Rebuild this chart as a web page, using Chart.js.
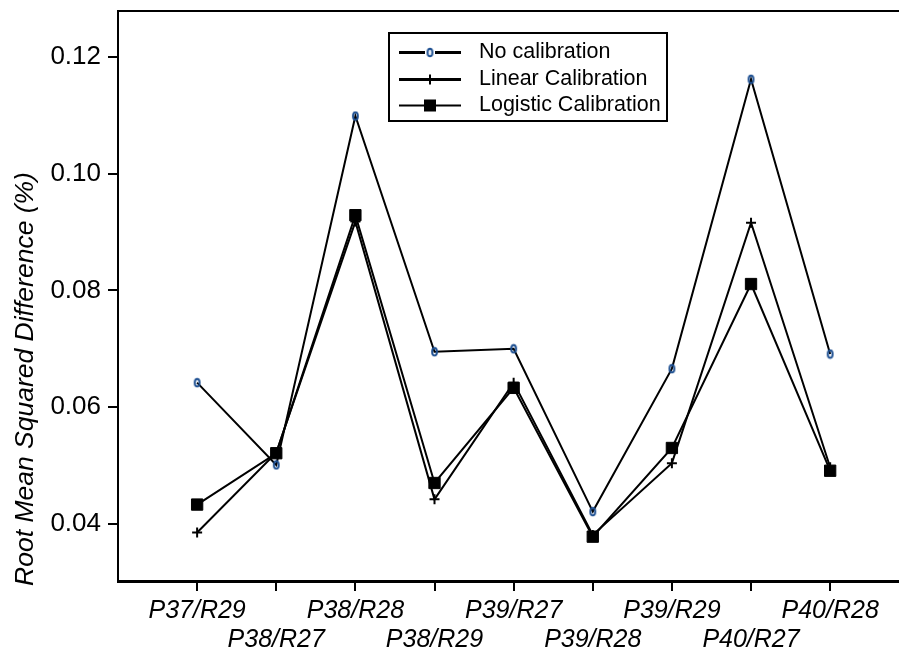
<!DOCTYPE html>
<html>
<head>
<meta charset="utf-8">
<script src="https://cdn.jsdelivr.net/npm/chart.js@4/dist/chart.umd.min.js"></script>
<style>
  html, body { margin: 0; padding: 0; background: #fff; }
  #wrap { width: 899px; height: 654px; }
</style>
</head>
<body>
<div id="wrap"><canvas id="rmsChart" width="899" height="654"></canvas></div>
<script>
// data
const pairs = ["P37/R29", "P38/R27", "P38/R28", "P38/R29", "P39/R27", "P39/R28", "P39/R29", "P40/R27", "P40/R28"]
const noCalibration = [0.0642, 0.0501, 0.1099, 0.0695, 0.0700, 0.0421, 0.0666, 0.1162, 0.0691]
const linearCalibration = [0.0385, 0.0522, 0.0918, 0.0442, 0.0642, 0.0381, 0.0504, 0.0916, 0.0497]
const logisticCalibration = [0.0433, 0.0521, 0.0929, 0.0470, 0.0633, 0.0378, 0.0530, 0.0811, 0.0491]
const yTicks = [0.04, 0.06, 0.08, 0.10, 0.12]
const yTitle = "Root Mean Squared Difference (%)"

const FONT = "'Liberation Sans', Arial, sans-serif"
const BLUE = "#1d4f91"

// small blue oval used as the "no calibration" marker
function ovalMark() {
  const c = document.createElement("canvas")
  c.width = 9
  c.height = 11
  const g = c.getContext("2d")
  g.strokeStyle = BLUE
  g.lineWidth = 2
  g.beginPath()
  g.ellipse(4.5, 5.5, 2.4, 3.7, 0, 0, 2 * Math.PI)
  g.stroke()
  return c
}
const oval = ovalMark()

const toXY = (arr) => arr.map((v, i) => ({ x: i, y: v }))

// no automatic label padding, the plot frame is fixed
const noPad = (scale) => {
  scale.paddingLeft = 0
  scale.paddingRight = 0
  scale.paddingTop = 0
  scale.paddingBottom = 0
}

// frame top line, rotated y title and boxed legend
const extras = {
  id: "extras",
  afterDraw(chart) {
    const ctx = chart.ctx
    const area = chart.chartArea
    ctx.save()
    ctx.strokeStyle = "#000"
    ctx.lineWidth = 2
    ctx.beginPath()
    ctx.moveTo(area.left - 1, area.top)
    ctx.lineTo(chart.width, area.top)
    ctx.stroke()

    // y title
    ctx.save()
    ctx.translate(33, 379)
    ctx.rotate(-Math.PI / 2)
    ctx.font = "italic 26.5px " + FONT
    ctx.fillStyle = "#000"
    ctx.textAlign = "center"
    ctx.textBaseline = "alphabetic"
    ctx.fillText(yTitle, 0, 0)
    ctx.restore()

    // legend
    const bx = 389, by = 33, bw = 278, bh = 88
    ctx.fillStyle = "#fff"
    ctx.fillRect(bx, by, bw, bh)
    ctx.lineWidth = 2
    ctx.strokeRect(bx, by, bw, bh)
    const rows = [52.5, 79.5, 105.5]
    const widths = [3, 3, 2]
    chart.data.datasets.forEach((ds, i) => {
      const y = rows[i]
      ctx.strokeStyle = "#000"
      ctx.lineWidth = widths[i]
      ctx.beginPath()
      ctx.moveTo(399, y)
      ctx.lineTo(461, y)
      ctx.stroke()
      const mx = 430
      if (i === 0) {
        ctx.fillStyle = "#fff"
        ctx.fillRect(mx - 5, y - 6, 10, 12)
        ctx.drawImage(oval, mx - 4.5, y - 5.5)
      } else if (i === 1) {
        ctx.lineWidth = 2
        ctx.beginPath()
        ctx.moveTo(mx, y - 5)
        ctx.lineTo(mx, y + 5)
        ctx.stroke()
      } else {
        ctx.fillStyle = "#000"
        ctx.fillRect(mx - 6, y - 6, 12, 12)
      }
      ctx.fillStyle = "#000"
      ctx.font = "21.5px " + FONT
      ctx.textAlign = "left"
      ctx.textBaseline = "middle"
      ctx.fillText(ds.label, 479, y)
    })
    ctx.restore()
  },
}

const ctx = document.getElementById("rmsChart").getContext("2d")
const rmsChart = new Chart(ctx, {
  type: "line",
  data: {
    datasets: [
      {
        label: "No calibration",
        data: toXY(noCalibration),
        borderColor: "#000",
        borderWidth: 2,
        pointStyle: oval,
        pointRadius: 5,
        tension: 0,
      },
      {
        label: "Linear Calibration",
        data: toXY(linearCalibration),
        borderColor: "#000",
        borderWidth: 2,
        pointStyle: "cross",
        pointRadius: 5,
        pointBorderWidth: 2,
        pointBorderColor: "#000",
        tension: 0,
      },
      {
        label: "Logistic Calibration",
        data: toXY(logisticCalibration),
        borderColor: "#000",
        borderWidth: 2,
        pointStyle: "rect",
        pointRadius: 8,
        pointBorderWidth: 1,
        pointBackgroundColor: "#000",
        pointBorderColor: "#000",
        tension: 0,
      },
    ],
  },
  options: {
    responsive: false,
    animation: false,
    devicePixelRatio: 1,
    layout: { autoPadding: false, padding: { top: 11, left: 0, right: 0, bottom: 0 } },
    plugins: {
      legend: { display: false },
      tooltip: { enabled: false },
    },
    scales: {
      x: {
        type: "linear",
        min: -1,
        max: 8.87,
        afterBuildTicks: (scale) => {
          scale.ticks = pairs.map((p, i) => ({ value: i }))
        },
        afterFit: (scale) => {
          scale.height = 73
          noPad(scale)
        },
        grid: {
          drawOnChartArea: false,
          drawTicks: true,
          tickLength: 10,
          color: "#000",
          lineWidth: 2,
        },
        border: { color: "#000", width: 3 },
        ticks: {
          autoSkip: false,
          maxRotation: 0,
          minRotation: 0,
          padding: 6,
          color: "#000",
          font: { family: FONT, size: 25, style: "italic", lineHeight: 1.15 },
          callback: (v) => (v % 2 === 0 ? [pairs[v], ""] : ["", pairs[v]]),
        },
      },
      y: {
        min: 0.0302,
        max: 0.1279,
        afterBuildTicks: (scale) => {
          scale.ticks = yTicks.map((v) => ({ value: v }))
        },
        afterFit: (scale) => {
          scale.width = 118
          noPad(scale)
        },
        grid: {
          drawOnChartArea: false,
          drawTicks: true,
          tickLength: 10,
          color: "#000",
          lineWidth: 2,
        },
        border: { color: "#000", width: 2 },
        ticks: {
          padding: 7,
          color: "#000",
          font: { family: FONT, size: 26 },
          callback: (v) => v.toFixed(2),
        },
      },
    },
  },
  plugins: [extras],
})
</script>
</body>
</html>
